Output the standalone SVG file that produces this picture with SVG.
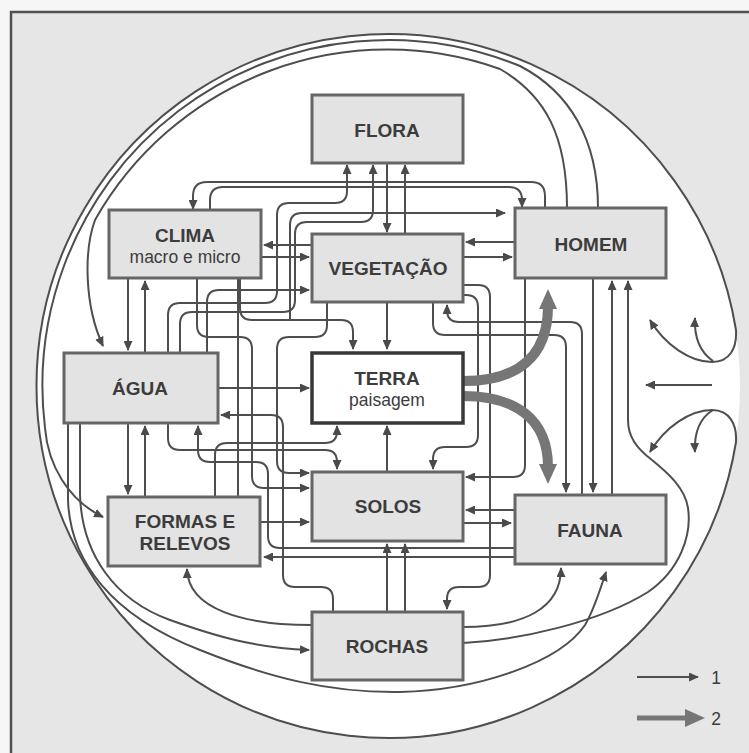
<svg xmlns="http://www.w3.org/2000/svg" width="749" height="753" viewBox="0 0 749 753">
<defs>
<style>
.bx{fill:#e3e3e3;stroke:#666666;stroke-width:3}
.tr{fill:#ffffff;stroke:#383838;stroke-width:3.5}
.t{font-family:"Liberation Sans",Arial,sans-serif;font-weight:bold;font-size:19px;fill:#3c3c3c;text-anchor:middle}
.s{font-family:"Liberation Sans",Arial,sans-serif;font-size:17.5px;fill:#3c3c3c;text-anchor:middle}
.c path{fill:none;stroke:#4e4e4e;stroke-width:2}
.c path.e{marker-end:url(#a)}
.c path.k{stroke:#767676;stroke-width:10;marker-end:url(#b)}
</style>
<marker id="a" viewBox="0 0 10 9" markerUnits="userSpaceOnUse" markerWidth="10" markerHeight="9" refX="9" refY="4.5" orient="auto-start-reverse"><path d="M0,0 L10,4.5 L0,9 Z" fill="#4a4a4a"/></marker>
<marker id="b" viewBox="0 0 20 18" markerUnits="userSpaceOnUse" markerWidth="20" markerHeight="18" refX="3" refY="9" orient="auto"><path d="M0,0 L20,9 L0,18 Z" fill="#767676"/></marker>
</defs>
<rect x="0" y="0" width="749" height="753" fill="#f6f6f6"/>
<rect x="11" y="12" width="745" height="750" fill="#e6e6e6" stroke="#505050" stroke-width="2.5"/>
<circle cx="388" cy="386" r="352" fill="#ffffff"/>

<g id="connectors" class="c">
<!-- outer ring and loops -->
<path d="M650,452 C665,427 690,410 712,410 C730,410 737,425 736,442 A352,352 0 1 1 736,330 C737,348 730,362 712,362 C690,362 665,345 650,320" style="marker-start:url(#a);marker-end:url(#a)"/>
<path class="e" d="M713,361 C700,352 694,338 695,318"/>
<path class="e" d="M713,410 C700,418 694,432 695,452"/>
<path class="e" d="M712,385 H646"/>
<path class="e" d="M598,208 C598,140 570,92 520,66 A346,346 0 0 0 45,428 C48,465 68,500 103,517"/>
<path class="e" d="M567,208 C567,135 545,95 500,69 A336,336 0 0 0 95,220 C84,250 84,305 103,346"/>
<path class="e" d="M68,423 V500 C70,560 110,615 200,650 C270,678 330,693 400,692 C480,690 560,662 585,625 C594,610 600,590 606,572"/>
<path class="e" d="M80,423 V495 C82,555 115,600 170,620 C215,636 255,648 309,650"/>
<!-- top -->
<path class="e" d="M545,208 V196 Q545,182 531,182 H207 Q193,182 193,196 V209"/>
<path class="e" d="M210,210 V200 Q210,187 223,187 H509 Q522,187 522,200 V207"/>
<path class="e" d="M387,163 V232"/>
<path class="e" d="M405,234 V165"/>
<path class="e" d="M168,353 V315 Q168,303 180,303 H265 Q277,303 277,291 V215 Q277,203 289,203 H335 Q347,203 347,191 V165"/>
<path class="e" d="M180,353 V324 Q180,312 192,312 H283 Q295,312 295,300 V234 Q295,222 307,222 H361 Q373,222 373,210 V165"/>
<path class="e" d="M290,320 V225 Q290,213 302,213 H505"/>
<path class="e" d="M240,278 V308 Q240,320 252,320 H341 Q353,320 353,332 V349"/>
<path d="M238,497 V278"/>
<path class="e" d="M197,278 V325 Q197,337 209,337 H240 Q252,337 252,349 V476 Q252,488 264,488 H309"/>
<path class="e" d="M327,302 V325 Q327,337 315,337 H289 Q277,337 277,349 V461 Q277,473 289,473 H309"/>
<path class="e" d="M207,353 V302 Q207,290 219,290 H309"/>
<path class="e" d="M261,257 H309"/>
<path class="e" d="M312,245 H264"/>
<path class="e" d="M128,278 V350"/>
<path class="e" d="M145,353 V281"/>
<path class="e" d="M218,388 H309"/>
<path class="e" d="M333,612 V599 Q333,587 321,587 H295 Q283,587 283,575 V427 Q283,415 271,415 H221"/>
<path class="e" d="M128,423 V494"/>
<path class="e" d="M145,497 V426"/>
<path class="e" d="M168,423 V438 Q168,450 180,450 H325 Q337,450 337,462 V469"/>
<path class="e" d="M215,497 V455 Q215,443 227,443 H325 Q337,443 337,431 V426"/>
<path class="e" d="M514,548 H280 Q268,548 268,536 V474 Q268,462 256,462 H210 Q198,462 198,450 V426"/>
<path class="e" d="M514,557 H264"/>
<path class="e" d="M260,522 H309"/>
<path class="e" d="M387,472 V426"/>
<path class="e" d="M387,302 V349"/>
<path class="e" d="M387,612 V544"/>
<path class="e" d="M405,612 V544"/>
<path class="e" d="M463,285 H478 Q490,285 490,297 V575 Q490,587 478,587 H459 Q447,587 447,599 V609"/>
<path class="e" d="M463,295 H466 Q478,295 478,307 V435 Q478,447 466,447 H445 Q433,447 433,459 V469"/>
<path class="e" d="M582,495 V334 Q582,322 570,322 H459 Q447,322 447,310 V305"/>
<path class="e" d="M433,302 V323 Q433,335 445,335 H554 Q566,335 566,347 V492"/>
<path class="e" d="M525,278 V465 Q525,477 513,477 H466"/>
<path class="e" d="M593,278 V492"/>
<path class="e" d="M612,495 V281"/>
<path class="e" d="M463,643 C520,640 600,622 648,592 C680,570 692,535 688,508 C685,488 668,473 652,460 C636,448 628,436 628,420 V281"/>
<path class="e" d="M463,627 C525,627 561,608 561,568"/>
<path class="e" d="M515,242 H466"/>
<path class="e" d="M463,257 H512"/>
<path class="e" d="M514,510 H466"/>
<path class="e" d="M463,523 H511"/>
<path class="e" d="M312,625 C245,625 188,610 187,569"/>
<!-- type 2 -->
<path class="k" d="M463,381 C517,381 548,358 548,306"/>
<path class="k" d="M463,396 C517,396 548,420 548,467"/>
<!-- legend -->
<path class="e" d="M637,677 H698"/>
<path d="M637,718 H688" style="stroke:#767676;stroke-width:5;marker-end:url(#b)"/>
</g>

<g id="flora"><rect class="bx" x="312" y="95" width="151" height="68"/><text class="t" x="387" y="137">FLORA</text></g>
<g id="clima"><rect class="bx" x="109" y="210" width="152" height="68"/><text class="t" x="185" y="242">CLIMA</text><text class="s" x="185" y="263">macro e micro</text></g>
<g id="vegetacao"><rect class="bx" x="312" y="234" width="151" height="68"/><text class="t" x="388" y="275">VEGETAÇÃO</text></g>
<g id="homem"><rect class="bx" x="515" y="208" width="151" height="70"/><text class="t" x="591" y="251">HOMEM</text></g>
<g id="agua"><rect class="bx" x="64" y="353" width="154" height="70"/><text class="t" x="140" y="395">ÁGUA</text></g>
<g id="terra"><rect class="tr" x="312" y="353" width="151" height="70"/><text class="t" x="387" y="385">TERRA</text><text class="s" x="387" y="406">paisagem</text></g>
<g id="formas"><rect class="bx" x="108" y="497" width="152" height="69"/><text class="t" x="185" y="528">FORMAS E</text><text class="t" x="185" y="550">RELEVOS</text></g>
<g id="solos"><rect class="bx" x="312" y="472" width="151" height="69"/><text class="t" x="388" y="513">SOLOS</text></g>
<g id="fauna"><rect class="bx" x="515" y="495" width="151" height="69"/><text class="t" x="590" y="537">FAUNA</text></g>
<g id="rochas"><rect class="bx" x="312" y="612" width="151" height="68"/><text class="t" x="387" y="653">ROCHAS</text></g>
<g id="legend"><text class="s" x="716" y="684">1</text><text class="s" x="716" y="725">2</text></g>
</svg>
